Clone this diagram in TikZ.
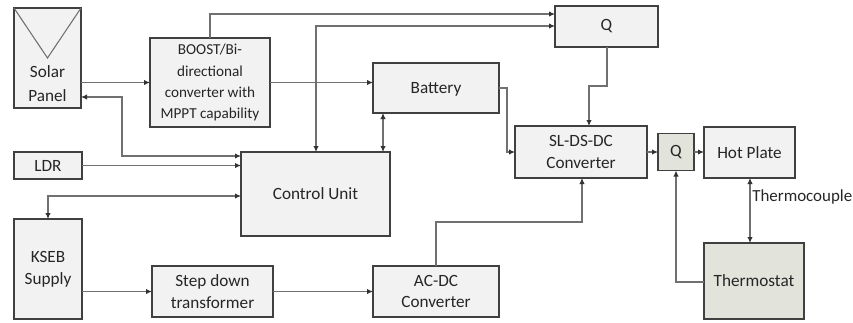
\documentclass[tikz,border=0pt]{standalone}
\usepackage{fontspec}
\setmainfont{Carlito}
\usetikzlibrary{arrows.meta}
\definecolor{boxfill}{HTML}{F2F2F2}
\definecolor{greenfill}{HTML}{E2E4DC}
\definecolor{boxline}{HTML}{404040}
\definecolor{wire}{HTML}{707070}
\tikzset{
  x=0.75pt,y=-0.75pt,
  bx/.style n args={2}{draw=boxline,fill=boxfill,line width=1.2pt,inner sep=0pt,outer sep=0pt,
    align=center,font=\fontsize{12.9}{16.4}\selectfont,text=black!85,
    minimum width=#1*0.75pt,minimum height=#2*0.75pt},
  gbx/.style={fill=greenfill},
  tip/.style={-{Latex[length=4.5pt,width=4pt,color=black!80]},draw=wire,line width=0.8pt},
  bitip/.style={{Latex[length=4.5pt,width=4pt,color=black!80]}-{Latex[length=4.5pt,width=4pt,color=black!80]},draw=wire,line width=0.8pt},
}
\begin{document}
\begin{tikzpicture}
\useasboundingbox (0,0) rectangle (853,322);
\node[bx={67}{100}] (solar) at (47.5,58) {};
\node[text=black!85,font=\fontsize{12.9}{17.5}\selectfont,align=center,inner sep=0pt] (solartext) at (47.5,83.5) {Solar\\Panel};
\coordinate (apex) at (47.5,58);
\draw[draw=wire,line width=0.8pt] (solar.north west) -- (apex) -- (solar.north east);
\node[bx={120}{89},font=\fontsize{11.4}{15.8}\selectfont] (boost) at (210,82.5) {BOOST/Bi-\\directional\\converter with\\MPPT capability};
\node[bx={126}{50},text depth=0pt] (battery) at (436,88) {Battery};
\node[bx={103}{41}] (qtop) at (606.5,26.5) {Q};
\node[bx={132}{52}] (sl) at (581,152) {SL-DS-DC\\Converter};
\node[bx={36}{37},gbx] (qsmall) at (676,152) {Q};
\node[bx={91}{51}] (hot) at (749.5,152.5) {Hot Plate};
\node[bx={100}{76},gbx] (thermostat) at (754,281) {Thermostat};
\node[bx={68}{27}] (ldr) at (48,165.5) {LDR};
\node[bx={149}{84}] (control) at (315.5,194) {Control Unit};
\node[bx={68}{100}] (kseb) at (48,269) {KSEB\\Supply};
\node[bx={121}{51}] (step) at (212.5,291.5) {Step down\\transformer};
\node[bx={126}{51}] (acdc) at (436,291.5) {AC-DC\\Converter};
\node[text=black!85,font=\fontsize{12.7}{15}\selectfont,anchor=west,inner sep=0pt] (tc) at (752,197) {Thermocouple};
% named free points
\coordinate (c1) at (122,156); \coordinate (c2) at (122,97);
\coordinate (c3) at (48,196);
\coordinate (c4) at (316,26); \coordinate (c5) at (210,14);
\coordinate (c6) at (383,100);
\coordinate (c7) at (507,88); \coordinate (c8) at (507,152);
\coordinate (c9) at (607,86); \coordinate (c10) at (589,86);
\coordinate (c11) at (436,222); \coordinate (c12) at (582,222);
\coordinate (c13) at (676,282); \coordinate (c14) at (750,200);
\draw[tip] (solar.east |- boost.west) -- (boost.west);
\draw[bitip] (control.west |- c1) -- (c1) -- (c2) -- (solar.east |- c2);
\draw[tip] (ldr.east) -- (control.west |- ldr.east);
\draw[bitip] (kseb.north -| c3) -- (c3) -- (control.west |- c3);
\draw[tip] (c5 |- boost.north) -- (c5) -- (qtop.west |- c5);
\draw[bitip] (qtop.west |- c4) -- (c4) -- (c4 |- control.north);
\draw[tip] (boost.east) -- (battery.west |- boost.east);
\draw[bitip] (c6 |- battery.south) -- (c6 |- control.north);
\draw[tip] (battery.east |- c7) -- (c7) -- (c8) -- (sl.west |- c8);
\draw[tip] (c9 |- qtop.south) -- (c9) -- (c10) -- (c10 |- sl.north);
\draw[tip] (sl.east) -- (qsmall.west);
\draw[tip] (qsmall.east) -- (hot.west |- qsmall.east);
\draw[tip] (c11 |- acdc.north) -- (c11) -- (c12) -- (c12 |- sl.south);
\draw[tip] (thermostat.west |- c13) -- (c13) -- (c13 |- qsmall.south);
\draw[bitip] (c14 |- hot.south) -- (c14 |- thermostat.north);
\draw[tip] (kseb.east |- step.west) -- (step.west);
\draw[tip] (step.east) -- (acdc.west);
\end{tikzpicture}
\end{document}
